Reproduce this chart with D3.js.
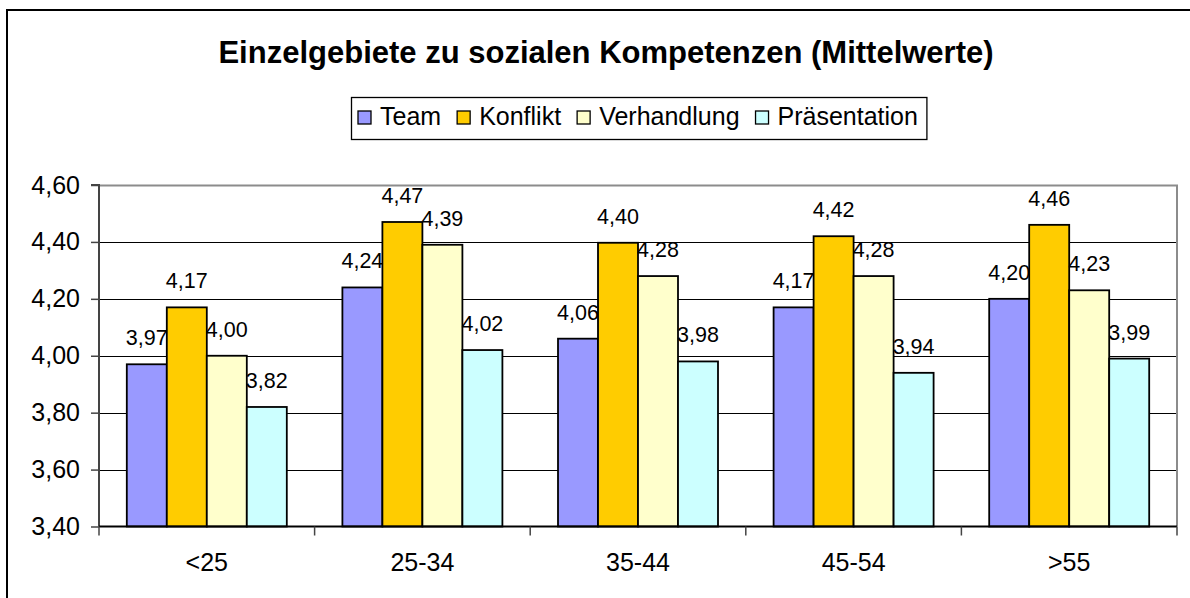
<!DOCTYPE html>
<html>
<head>
<meta charset="utf-8">
<script src="https://cdn.jsdelivr.net/npm/d3@7"></script>
<style>
  body { margin: 0; background: #fff; }
  text { font-family: "Liberation Sans", Arial, sans-serif; fill: #000; }
</style>
</head>
<body>
<svg id="chart" width="1190" height="598"></svg>
<script>
var categories = ['<25', '25-34', '35-44', '45-54', '>55'];
var seriesNames = ['Team', 'Konflikt', 'Verhandlung', 'Präsentation'];
var seriesColors = ['#9999ff', '#ffcc00', '#ffffcc', '#ccffff'];
var team = [3.97, 4.24, 4.06, 4.17, 4.20];
var konflikt = [4.17, 4.47, 4.397, 4.42, 4.46];
var verhandlung = [4.00, 4.39, 4.28, 4.28, 4.23];
var praesentation = [3.82, 4.02, 3.98, 3.94, 3.99];
var yTicks = [3.40, 3.60, 3.80, 4.00, 4.20, 4.40, 4.60];

var seriesValues = [team, konflikt, verhandlung, praesentation];
var fmt = d => d3.format('.2f')(d).replace('.', ',');

var svg = d3.select('#chart');
var plot = { left: 99, right: 1177, top: 185, bottom: 526.5 };

// outer frame
svg.append('rect')
  .attr('x', 7).attr('y', 10)
  .attr('width', 1250).attr('height', 650)
  .attr('fill', 'none').attr('stroke', '#000').attr('stroke-width', 2);

svg.append('text')
  .attr('x', 606).attr('y', 63)
  .attr('text-anchor', 'middle')
  .style('font-size', '31px').style('font-weight', 'bold')
  .text('Einzelgebiete zu sozialen Kompetenzen (Mittelwerte)');

var x0 = d3.scaleBand().domain(categories).range([plot.left, plot.right]).padding(0);
var x1 = d3.scaleBand().domain(seriesNames).range([0, x0.bandwidth()])
  .paddingInner(0).paddingOuter(0.695);
var y = d3.scaleLinear().domain([3.4, 4.6]).range([plot.bottom, plot.top]);

// gridlines
svg.append('g').selectAll('line')
  .data(yTicks.slice(1, -1))
  .join('line')
  .attr('x1', plot.left).attr('x2', plot.right)
  .attr('y1', d => Math.round(y(d)) + 0.5).attr('y2', d => Math.round(y(d)) + 0.5)
  .attr('stroke', '#000').attr('stroke-width', 1);

// plot border top / right
svg.append('path')
  .attr('d', `M${plot.left},${plot.top + 0.5}H${plot.right}V${plot.bottom}`)
  .attr('fill', 'none').attr('stroke', '#8c8c8c').attr('stroke-width', 2);

// y axis
var yAxis = d3.axisLeft(y).tickValues(yTicks).tickSize(8).tickPadding(11).tickFormat(fmt);
var gy = svg.append('g').attr('transform', `translate(${plot.left},0)`).call(yAxis);
gy.select('.domain').attr('stroke', '#444').attr('stroke-width', 2).attr('d', `M-8,${plot.top}H0V${plot.bottom}`);
gy.selectAll('.tick line').attr('stroke', '#444').attr('stroke-width', 1.5);
gy.selectAll('.tick text').style('font-size', '25px').attr('font-family', null).attr('fill', '#000');

// bars
var groups = svg.append('g').selectAll('g')
  .data(categories)
  .join('g')
  .attr('transform', d => `translate(${x0(d)},0)`);

var barData = (c, ci) => seriesNames.map((s, si) => ({ s: s, si: si, v: seriesValues[si][ci] }));

groups.selectAll('rect')
  .data(barData)
  .join('rect')
  .attr('x', d => x1(d.s))
  .attr('y', d => y(d.v))
  .attr('width', x1.bandwidth())
  .attr('height', d => plot.bottom - y(d.v))
  .attr('fill', d => seriesColors[d.si])
  .attr('stroke', '#000').attr('stroke-width', 1.8);

groups.selectAll('text')
  .data(barData)
  .join('text')
  .attr('x', d => x1(d.s) + x1.bandwidth() / 2)
  .attr('y', d => y(d.v) - 19)
  .attr('text-anchor', 'middle')
  .style('font-size', '21.5px')
  .text(d => fmt(d.v));

// x axis
var xAxis = d3.axisBottom(x0).tickSize(0).tickPadding(27);
var gx = svg.append('g').attr('transform', `translate(0,${plot.bottom})`).call(xAxis);
gx.select('.domain').attr('stroke', '#000').attr('stroke-width', 2).attr('d', `M${plot.left},0H${plot.right}`);
gx.selectAll('.tick text').style('font-size', '25px').attr('font-family', null).attr('fill', '#000');
var bounds = categories.map(c => x0(c)).concat([plot.right]);
gx.selectAll('.sep')
  .data(bounds)
  .join('line')
  .attr('x1', d => d).attr('x2', d => d)
  .attr('y1', 0).attr('y2', 9)
  .attr('stroke', '#444').attr('stroke-width', 1.5);

// legend
var legend = svg.append('g');
var lx = 358, ly = 125;
var items = legend.selectAll('g')
  .data(seriesNames)
  .join('g');
items.each(function(d, i) {
  var g = d3.select(this);
  g.append('rect')
    .attr('x', lx).attr('y', ly - 14)
    .attr('width', 13).attr('height', 13)
    .attr('fill', seriesColors[i]).attr('stroke', '#000').attr('stroke-width', 1.3);
  var t = g.append('text')
    .attr('x', lx + 22).attr('y', ly)
    .style('font-size', '25px')
    .text(d);
  lx += 22 + t.node().getComputedTextLength() + 16;
});
legend.insert('rect', ':first-child')
  .attr('x', 351.5).attr('y', 97.5)
  .attr('width', lx - 351.5 - 7).attr('height', 42)
  .attr('fill', '#fff').attr('stroke', '#000').attr('stroke-width', 1.3);
</script>
</body>
</html>
